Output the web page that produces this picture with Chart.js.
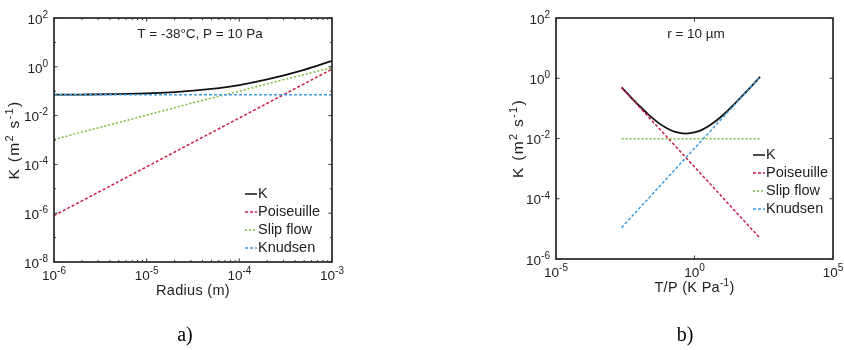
<!DOCTYPE html>
<html>
<head>
<meta charset="utf-8">
<script src="https://cdn.jsdelivr.net/npm/chart.js@4.4.1/dist/chart.umd.min.js"></script>
<style>
html,body{margin:0;padding:0;background:#fff;}
#wrap{position:relative;width:844px;height:350px;}
.pane{position:absolute;top:0;width:422px;height:350px;}
</style>
</head>
<body>
<div id="wrap">
  <div class="pane" style="left:0"><canvas id="cA" width="422" height="350"></canvas></div>
  <div class="pane" style="left:422px"><canvas id="cB" width="422" height="350"></canvas></div>
</div>
<script>
// ---------- Panel a) : K vs radius ----------
const radiusA      = [1e-6, 2e-6, 5e-6, 1e-5, 2e-5, 5e-5, 1e-4, 2e-4, 5e-4, 1e-3];
const kTotalA      = [0.072, 0.073, 0.076, 0.082, 0.092, 0.125, 0.179, 0.303, 0.75, 1.75];
const poiseuilleA  = [8e-7, 3.2e-6, 2e-5, 8e-5, 3.2e-4, 2e-3, 8e-3, 0.032, 0.2, 0.8];
const slipA        = [0.00105, 0.0021, 0.0052, 0.0105, 0.021, 0.052, 0.10, 0.2, 0.48, 0.92];
const knudsenA     = [0.071, 0.071, 0.071, 0.071, 0.071, 0.071, 0.071, 0.071, 0.071, 0.071];
const xTicksA      = [-6, -5, -4, -3];          // exponents of 10
const yTicksA      = [2, 0, -2, -4, -6, -8];
const noteA        = "T = -38°C, P = 10 Pa";

// ---------- Panel b) : K vs T/P ----------
const tpB          = [0.00233, 0.005, 0.01, 0.02, 0.05, 0.1, 0.2, 0.5, 1, 2, 5, 10, 20, 50, 100, 233];
const kTotalB      = [0.50, 0.238, 0.124, 0.067, 0.033, 0.0219, 0.0166, 0.0146, 0.0159, 0.020, 0.034, 0.057, 0.104, 0.246, 0.482, 1.11];
const poiseuilleB  = [0.49, 0.228, 0.114, 0.057, 0.0228, 0.0114, 0.0057, 0.00228, 0.00114, 0.00057, 0.000228, 0.000114, 5.7e-5, 2.28e-5, 1.14e-5, 4.9e-6];
const slipB        = [0.0098, 0.0098, 0.0098, 0.0098, 0.0098, 0.0098, 0.0098, 0.0098, 0.0098, 0.0098, 0.0098, 0.0098, 0.0098, 0.0098, 0.0098, 0.0098];
const knudsenB     = [1.1e-5, 2.36e-5, 4.72e-5, 9.44e-5, 2.36e-4, 4.72e-4, 9.44e-4, 2.36e-3, 4.72e-3, 9.44e-3, 0.0236, 0.0472, 0.0944, 0.236, 0.472, 1.1];
const xTicksB      = [-5, 0, 5];
const yTicksB      = [2, 0, -2, -4, -6];
const noteB        = "r = 10 µm";

const seriesNames  = ["K", "Poiseuille", "Slip flow", "Knudsen"];
const colors       = ["#111111", "#cc1d42", "#78bd38", "#3a9be0"];
const dashes       = [[], [3, 2], [2, 2], [3, 2]];

const FONT = "'Liberation Sans', Arial, sans-serif";

function pts(xs, ys){ return xs.map((x,i)=>({x:x, y:ys[i]})); }

function makeDatasets(xs, arrs){
  return arrs.map((arr,i)=>({
    label: seriesNames[i],
    data: pts(xs, arr),
    borderColor: colors[i],
    backgroundColor: colors[i],
    borderWidth: i===0 ? 1.8 : 1.5,
    borderDash: dashes[i],
    pointRadius: 0,
    fill: false,
    cubicInterpolationMode: 'monotone',
    order: i===0 ? 5 : 4-i
  }));
}

// rich text: segments [[text, isSup], ...]
function richWidth(ctx, segs, fs, sfs, sp){
  sp = sp || 0;
  let w=0;
  segs.forEach(s=>{ ctx.font = (s[1]?sfs:fs)+"px "+FONT; w += ctx.measureText(s[0]).width + sp*s[0].length; });
  return w;
}
function drawRich(ctx, segs, x, y, fs, sfs, raise, sp){
  sp = sp || 0;
  ctx.textBaseline = 'middle';
  ctx.textAlign = 'left';
  let cx = x;
  segs.forEach(s=>{
    ctx.font = (s[1]?sfs:fs)+"px "+FONT;
    for(const ch of s[0]){
      ctx.fillText(ch, cx, s[1] ? y - raise : y);
      cx += ctx.measureText(ch).width + sp;
    }
  });
}

function framePlugin(cfg){
  return {
    id: 'frame'+cfg.name,
    afterDraw(chart){
      const ctx = chart.ctx, a = chart.chartArea;
      const xs = chart.scales.x, ys = chart.scales.y;
      ctx.save();
      // frame
      ctx.strokeStyle = '#333';
      ctx.lineWidth = 1.8;
      ctx.strokeRect(a.left, a.top, a.right-a.left, a.bottom-a.top);
      // ticks
      ctx.lineWidth = 1;
      ctx.beginPath();
      const tick = (px, horiz, len)=>{
        if(horiz){ ctx.moveTo(px, a.bottom); ctx.lineTo(px, a.bottom-len); ctx.moveTo(px, a.top); ctx.lineTo(px, a.top+len); }
        else { ctx.moveTo(a.left, px); ctx.lineTo(a.left+len, px); ctx.moveTo(a.right, px); ctx.lineTo(a.right-len, px); }
      };
      cfg.xTicks.forEach(e=> tick(xs.getPixelForValue(Math.pow(10,e)), true, 3.5));
      cfg.yTicks.forEach(e=> tick(ys.getPixelForValue(Math.pow(10,e)), false, 3.5));
      if(cfg.minorX){
        for(let e=cfg.xTicks[0]; e<cfg.xTicks[cfg.xTicks.length-1]; e++){
          for(let m=2;m<=9;m++) tick(xs.getPixelForValue(m*Math.pow(10,e)), true, 2);
        }
      }
      if(cfg.minorY){
        cfg.yTicks.slice(1).forEach(e=> tick(ys.getPixelForValue(Math.pow(10,e+1)), false, 2));
      }
      ctx.stroke();
      // tick labels
      ctx.fillStyle = '#222';
      const fs = 13.5, sfs = 10;
      cfg.xTicks.forEach(e=>{
        const segs = [["10",false],[String(e),true]];
        const w = richWidth(ctx, segs, fs, sfs);
        const px = xs.getPixelForValue(Math.pow(10,e));
        drawRich(ctx, segs, px - w/2, a.bottom + 14, fs, sfs, 5);
      });
      cfg.yTicks.forEach(e=>{
        const segs = [["10",false],[String(e),true]];
        const w = richWidth(ctx, segs, fs, sfs);
        const py = ys.getPixelForValue(Math.pow(10,e));
        drawRich(ctx, segs, a.left - 6 - w, py + 2, fs, sfs, 5);
      });
      // axis titles
      const tfs = 14.5, tsfs = 10;
      let w = richWidth(ctx, cfg.xTitle, tfs, tsfs, 0.3);
      drawRich(ctx, cfg.xTitle, (a.left+a.right)/2 - w/2, a.bottom + 29, tfs, tsfs, 5, 0.3);
      const yTitle = [["K (m",false],["2",true],[" s",false],["-1",true],[")",false]];
      w = richWidth(ctx, yTitle, 15.5, 11, 1.3);
      ctx.save();
      ctx.translate(cfg.yTitleX, (a.top+a.bottom)/2);
      ctx.rotate(-Math.PI/2);
      drawRich(ctx, yTitle, -w/2, 0, 15.5, 11, 5.5, 1.3);
      ctx.restore();
      // note
      ctx.font = "13.5px "+FONT;
      ctx.textAlign = 'center';
      ctx.textBaseline = 'middle';
      ctx.fillText(cfg.note, cfg.noteX, a.top + 16);
      // legend
      seriesNames.forEach((n,i)=>{
        const y = cfg.legY + i*18;
        ctx.strokeStyle = colors[i];
        ctx.lineWidth = 1.5;
        ctx.setLineDash(dashes[i]);
        ctx.beginPath();
        ctx.moveTo(cfg.legX, y); ctx.lineTo(cfg.legX+12, y);
        ctx.stroke();
        ctx.setLineDash([]);
        ctx.font = "14.5px "+FONT;
        ctx.textAlign = 'left';
        ctx.fillStyle = '#222';
        ctx.fillText(n, cfg.legX+13, y);
      });
      // panel label
      ctx.font = "20px 'Liberation Serif', 'Times New Roman', serif";
      ctx.textAlign = 'center';
      ctx.fillStyle = '#000';
      ctx.fillText(cfg.panel, cfg.panelX, 336);
      ctx.restore();
    }
  };
}

function makeChart(id, xs, arrs, xmin, xmax, ymin, ymax, pad, plug){
  return new Chart(document.getElementById(id), {
    type: 'line',
    data: { datasets: makeDatasets(xs, arrs) },
    options: {
      responsive: false,
      animation: false,
      devicePixelRatio: 1,
      layout: { padding: pad },
      plugins: { legend: {display:false}, tooltip: {enabled:false} },
      scales: {
        x: { type: 'logarithmic', min: xmin, max: xmax, display: false },
        y: { type: 'logarithmic', min: ymin, max: ymax, display: false }
      }
    },
    plugins: [plug]
  });
}

makeChart('cA', radiusA, [kTotalA, poiseuilleA, slipA, knudsenA], 1e-6, 1e-3, 1e-8, 1e2,
  {left:54, right:90, top:18, bottom:88},
  framePlugin({name:'A', xTicks:xTicksA, yTicks:yTicksA, minorX:true, minorY:true,
    xTitle:[["Radius (m)",false]], yTitleX:15, note:noteA, noteX:200,
    legX:245, legY:194, panel:"a)", panelX:185}));

makeChart('cB', tpB, [kTotalB, poiseuilleB, slipB, knudsenB], 1e-5, 1e5, 1e-6, 1e2,
  {left:134, right:11, top:18, bottom:91},
  framePlugin({name:'B', xTicks:xTicksB, yTicks:yTicksB, minorX:false, minorY:false,
    xTitle:[["T/P (K Pa",false],["-1",true],[")",false]], yTitleX:97, note:noteB, noteX:274,
    legX:331, legY:155, panel:"b)", panelX:263}));
</script>
</body>
</html>
